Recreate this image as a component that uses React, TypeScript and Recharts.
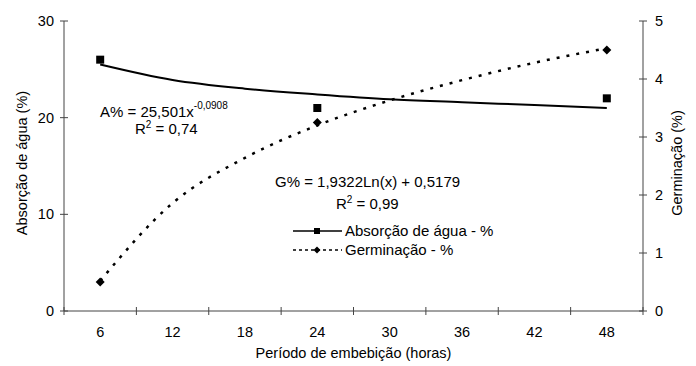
import { LineChart, Line, XAxis, YAxis, Legend, Customized } from "recharts";

// períodos de embebição (horas)
const periodos = ["6", "12", "18", "24", "30", "36", "42", "48"];
// valores observados
const absorcao = [26, null, null, 21, null, null, null, 22];
const germinacao = [0.5, null, null, 3.25, null, null, null, 4.5];
// linhas de tendência
const tendAbsorcao = [25.5, 23.9, 23.0, 22.4, 21.9, 21.6, 21.3, 21.0];
const tendGerminacao = [0.52, 1.86, 2.64, 3.2, 3.63, 3.98, 4.28, 4.53];

const ticksAbs = [0, 10, 20, 30];
const ticksGerm = [0, 1, 2, 3, 4, 5];

const data = periodos.map((p, i) => ({
    periodo: p,
    absorcao: absorcao[i],
    germinacao: germinacao[i],
    tendA: tendAbsorcao[i],
    tendG: tendGerminacao[i],
}));

const W = 696;
const H = 366;
const LEFT_W = 64;
const RIGHT_W = 53;
const PLOT_W = W - LEFT_W - RIGHT_W;
const BAND = PLOT_W / periodos.length;
const FONT = "'Liberation Sans', Arial, sans-serif";
const AXIS = "#444";
const FS = 14.5;

const XTick = (props: any) => {
    const { x, y, payload, index } = props;
    return (
        <g>
            <line x1={x - BAND / 2} x2={x - BAND / 2} y1={y - 4} y2={y + 4} stroke={AXIS} />
            {index === periodos.length - 1 && (
                <line x1={x + BAND / 2} x2={x + BAND / 2} y1={y - 4} y2={y + 4} stroke={AXIS} />
            )}
            <text x={x} y={y + 26} textAnchor="middle" fontSize={FS} fontFamily={FONT} fill="#000">
                {payload.value}
            </text>
        </g>
    );
};

const LeftTick = (props: any) => {
    const { x, y, payload } = props;
    return (
        <g>
            <line x1={x - 4} x2={x + 4} y1={y} y2={y} stroke={AXIS} />
            <text x={x - 10} y={y + 5} textAnchor="end" fontSize={FS} fontFamily={FONT} fill="#000">
                {payload.value}
            </text>
        </g>
    );
};

const RightTick = (props: any) => {
    const { x, y, payload } = props;
    return (
        <g>
            <line x1={x - 4} x2={x + 4} y1={y} y2={y} stroke={AXIS} />
            <text x={x + 12} y={y + 5} textAnchor="start" fontSize={FS} fontFamily={FONT} fill="#000">
                {payload.value}
            </text>
        </g>
    );
};

const SquareDot = (props: any) => {
    const { cx, cy, value, index } = props;
    if (value == null || cy == null) return <g key={index} />;
    return <rect key={index} x={cx - 4} y={cy - 4} width={8} height={8} fill="#000" />;
};

const DiamondDot = (props: any) => {
    const { cx, cy, value, index } = props;
    if (value == null || cy == null) return <g key={index} />;
    return (
        <polygon
            key={index}
            points={`${cx},${cy - 4.5} ${cx + 4.5},${cy} ${cx},${cy + 4.5} ${cx - 4.5},${cy}`}
            fill="#000"
        />
    );
};

const Anotacoes = () => (
    <g fontFamily={FONT} fill="#000" fontSize={15}>
        <text x={100} y={117}>
            A% = 25,501x<tspan dy={-8} fontSize={10}>-0,0908</tspan>
        </text>
        <text x={135} y={134}>
            R<tspan dy={-6} fontSize={10}>2</tspan>
            <tspan dy={6}> = 0,74</tspan>
        </text>
        <text x={275} y={187}>G% = 1,9322Ln(x) + 0,5179</text>
        <text x={336} y={209}>
            R<tspan dy={-6} fontSize={10}>2</tspan>
            <tspan dy={6}> = 0,99</tspan>
        </text>
        <text x={22} y={163} textAnchor="middle" fontSize={FS} transform="rotate(-90 22 163)" dominantBaseline="central">
            Absorção de água (%)
        </text>
        <text x={677} y={163} textAnchor="middle" fontSize={FS} transform="rotate(-90 677 163)" dominantBaseline="central">
            Germinação (%)
        </text>
        <text x={353.5} y={358} textAnchor="middle" fontSize={FS}>
            Período de embebição (horas)
        </text>
    </g>
);

const Legenda = () => (
    <svg width={210} height={40} style={{ display: "block" }}>
        <g fontFamily={FONT} fontSize={15} fill="#000">
            <line x1={1} x2={50} y1={10} y2={10} stroke="#000" strokeWidth={1.5} />
            <rect x={22} y={7} width={6} height={6} fill="#000" />
            <text x={53} y={15}>Absorção de água - %</text>
            <line x1={1} x2={50} y1={29} y2={29} stroke="#000" strokeWidth={1.5} strokeDasharray="3 3" />
            <polygon points="25,25.5 28.5,29 25,32.5 21.5,29" fill="#000" />
            <text x={53} y={34}>Germinação - %</text>
        </g>
    </svg>
);

const App = () => (
    <div style={{ position: "absolute", left: 0, top: 0 }}>
        <LineChart width={W} height={H} data={data} margin={{ top: 21, right: 0, left: 0, bottom: 0 }}>
            <XAxis
                dataKey="periodo"
                height={55}
                padding={{ left: BAND / 2, right: BAND / 2 }}
                stroke={AXIS}
                tickLine={false}
                tickSize={0}
                tickMargin={0}
                tick={<XTick />}
                interval={0}
            />
            <YAxis
                yAxisId="left"
                width={LEFT_W}
                domain={[0, 30]}
                ticks={ticksAbs}
                stroke={AXIS}
                tickLine={false}
                tickSize={0}
                tickMargin={0}
                tick={<LeftTick />}
            />
            <YAxis
                yAxisId="right"
                orientation="right"
                width={RIGHT_W}
                domain={[0, 5]}
                ticks={ticksGerm}
                stroke={AXIS}
                tickLine={false}
                tickSize={0}
                tickMargin={0}
                tick={<RightTick />}
            />
            <Line
                yAxisId="left"
                dataKey="tendA"
                type="monotone"
                stroke="#000"
                strokeWidth={2}
                dot={false}
                isAnimationActive={false}
                legendType="none"
            />
            <Line
                yAxisId="right"
                dataKey="tendG"
                type="monotone"
                stroke="#000"
                strokeWidth={2.5}
                strokeDasharray="3 7"
                dot={false}
                isAnimationActive={false}
                legendType="none"
            />
            <Line
                yAxisId="left"
                dataKey="absorcao"
                name="Absorção de água - %"
                stroke="none"
                dot={<SquareDot />}
                isAnimationActive={false}
            />
            <Line
                yAxisId="right"
                dataKey="germinacao"
                name="Germinação - %"
                stroke="none"
                dot={<DiamondDot />}
                isAnimationActive={false}
            />
            <Legend
                layout="vertical"
                align="center"
                verticalAlign="middle"
                content={<Legenda />}
                wrapperStyle={{ left: 292, top: 221, width: 210 }}
            />
            <Customized component={<Anotacoes />} />
        </LineChart>
    </div>
);

export default App;
